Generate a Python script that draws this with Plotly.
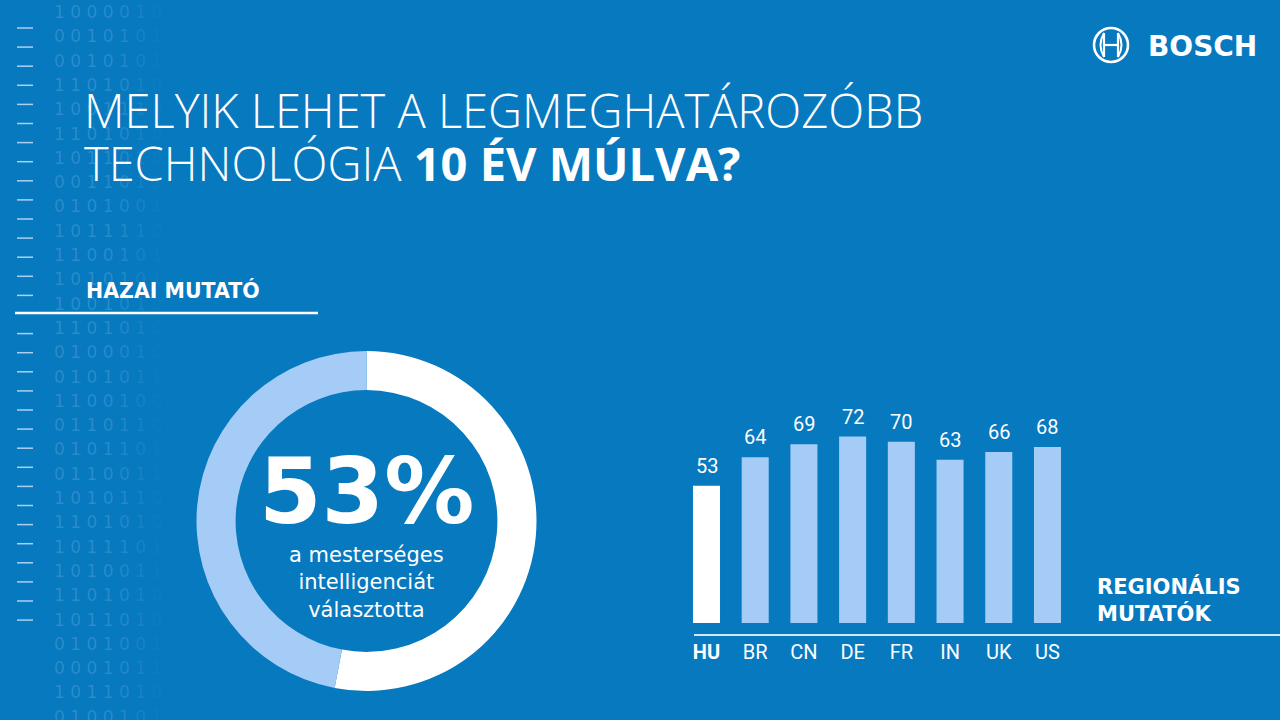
import plotly.graph_objects as go

# ---- data ----
countries = ["HU", "BR", "CN", "DE", "FR", "IN", "UK", "US"]
shares = [53, 64, 69, 72, 70, 63, 66, 68]
tick_labels = ["<b>HU</b>", "BR", "CN", "DE", "FR", "IN", "UK", "US"]
donut_labels = ["mesterséges intelligencia", "egyéb"]
donut_values = [53, 47]
binary_rows = [
    "10000101", "00101010", "00101010", "11010100", "10011100",
    "11010100", "10110100", "00110110", "01010010", "10111100",
    "11001010", "10101010", "10010100", "11010100", "01000100",
    "01010110", "11001000", "01101100", "01011010", "01100110",
    "10101100", "11010100", "10111010", "10100110", "11010100",
    "10110100", "01010010", "00010110", "10110100", "01001010",
]

BG = "#0779BF"
LIGHT = "#A4CCF6"
W, H = 1280, 720


def px(x):
    return x / W


def py(y):
    return 1 - y / H


fig = go.Figure()

# donut
cx, cy, r = 366.5, 521, 170
fig.add_trace(go.Pie(
    labels=donut_labels, values=donut_values, hole=0.77, sort=False,
    direction="clockwise", rotation=0,
    marker=dict(colors=["#FFFFFF", LIGHT], line=dict(width=0)),
    textinfo="none", hoverinfo="skip", showlegend=False,
    domain=dict(x=[px(cx - r), px(cx + r)], y=[py(cy + r), py(cy - r)]),
))

# bars
fig.add_trace(go.Bar(
    x=countries, y=shares, width=0.555,
    marker=dict(color=["#FFFFFF"] + [LIGHT] * (len(countries) - 1), line=dict(width=0)),
    hoverinfo="skip", showlegend=False,
))

ppu = 48.71
x0c = 706.5
scale = 2.59
base = 623
top = 400
fig.update_xaxes(
    type="category", categoryorder="array", categoryarray=countries,
    domain=[px(680), px(1080)],
    range=[(680 - x0c) / ppu, (1080 - x0c) / ppu],
    showgrid=False, zeroline=False, showline=False, ticks="",
    tickvals=countries, ticktext=tick_labels,
    tickfont=dict(family="Roboto", size=20, color="#FFFFFF"),
    ticklabelstandoff=15,
)
fig.update_yaxes(
    domain=[py(base), py(top)], range=[0, (base - top) / scale],
    visible=False, showgrid=False, zeroline=False,
)

annotations = []
for c, v in zip(countries, shares):
    annotations.append(dict(
        x=c, y=v, xref="x", yref="y", text=str(v), showarrow=False,
        yanchor="middle", yshift=20,
        font=dict(family="Roboto", size=20, color="#FFFFFF"),
    ))

# title
annotations.append(dict(
    x=px(82), y=py(110), xref="paper", yref="paper", xanchor="left", yanchor="middle",
    text="MELYIK LEHET A LEGMEGHATÁROZÓBB", showarrow=False,
    font=dict(family="Open Sans", size=47, color="#FFFFFF", weight=300),
))
annotations.append(dict(
    x=px(82), y=py(163), xref="paper", yref="paper", xanchor="left", yanchor="middle",
    text="TECHNOLÓGIA <b>10 ÉV MÚLVA?</b>", showarrow=False,
    font=dict(family="Open Sans", size=47, color="#FFFFFF", weight=300),
))
annotations.append(dict(
    x=px(84), y=py(290), xref="paper", yref="paper", xanchor="left", yanchor="middle",
    text="<b>HAZAI MUTATÓ</b>", showarrow=False,
    font=dict(family="DejaVu Sans", size=20.5, color="#FFFFFF"),
))
annotations.append(dict(
    x=px(1095), y=py(600), xref="paper", yref="paper", xanchor="left", yanchor="middle",
    text="<b>REGIONÁLIS<br>MUTATÓK</b>", showarrow=False, align="left",
    font=dict(family="DejaVu Sans", size=21, color="#FFFFFF"),
))

# donut centre text
annotations.append(dict(
    x=px(366), y=py(491), xref="paper", yref="paper", xanchor="center", yanchor="middle",
    text="<b>53%</b>", showarrow=False,
    font=dict(family="DejaVu Sans", size=90, color="#FFFFFF"),
))
annotations.append(dict(
    x=px(366), y=py(582), xref="paper", yref="paper", xanchor="center", yanchor="middle",
    text="a mesterséges<br>intelligenciát<br>választotta", showarrow=False, align="center",
    font=dict(family="DejaVu Sans", size=21, color="#FFFFFF"),
))

# BOSCH wordmark
annotations.append(dict(
    x=px(1146), y=py(46), xref="paper", yref="paper", xanchor="left", yanchor="middle",
    text="<b>BOSCH</b>", showarrow=False,
    font=dict(family="DejaVu Sans", size=28, color="#FFFFFF"),
))

# binary decoration
alphas = [0.48, 0.48, 0.48, 0.45, 0.38, 0.25, 0.12, 0.05]
for i, row in enumerate(binary_rows):
    spans = " ".join(
        f'<span style="color:rgba(175,212,245,{a})">{d}</span>' for d, a in zip(row, alphas)
    )
    annotations.append(dict(
        x=px(52), y=py(12 + i * 24.3), xref="paper", yref="paper",
        xanchor="left", yanchor="middle", text=spans, showarrow=False,
        font=dict(family="DejaVu Sans", size=17, color="rgba(175,212,245,0.45)"),
    ))

shapes = []
# dashes
for k in range(32):
    if k == 15:
        continue
    yy = 28 + k * 19.1
    shapes.append(dict(type="line", xref="paper", yref="paper",
                       x0=px(17), x1=px(33), y0=py(yy), y1=py(yy),
                       line=dict(color="rgba(200,225,248,0.85)", width=1.5)))
# long rule under HAZAI MUTATÓ
shapes.append(dict(type="line", xref="paper", yref="paper",
                   x0=px(15), x1=px(318), y0=py(313), y1=py(313),
                   line=dict(color="#FFFFFF", width=2.5)))
# bar baseline rule
shapes.append(dict(type="line", xref="paper", yref="paper",
                   x0=px(694), x1=px(1280), y0=py(635), y1=py(635),
                   line=dict(color="#D2E6FA", width=2)))
# Bosch armature logo
lx, ly, lr = 1111, 45, 17
shapes.append(dict(type="circle", xref="paper", yref="paper",
                   x0=px(lx - lr), x1=px(lx + lr), y0=py(ly + lr), y1=py(ly - lr),
                   line=dict(color="#FFFFFF", width=2.6)))
shapes.append(dict(type="line", xref="paper", yref="paper",
                   x0=px(lx - 7), x1=px(lx - 7), y0=py(ly - 12), y1=py(ly + 12),
                   line=dict(color="#FFFFFF", width=2.2)))
shapes.append(dict(type="line", xref="paper", yref="paper",
                   x0=px(lx + 7), x1=px(lx + 7), y0=py(ly - 12), y1=py(ly + 12),
                   line=dict(color="#FFFFFF", width=2.2)))
shapes.append(dict(type="line", xref="paper", yref="paper",
                   x0=px(lx - 7), x1=px(lx + 7), y0=py(ly), y1=py(ly),
                   line=dict(color="#FFFFFF", width=2.2)))
shapes.append(dict(type="path", xref="paper", yref="paper",
                   path=f"M {px(lx-7)},{py(ly-12)} Q {px(lx-14)},{py(ly)} {px(lx-7)},{py(ly+12)}",
                   line=dict(color="#FFFFFF", width=2)))
shapes.append(dict(type="path", xref="paper", yref="paper",
                   path=f"M {px(lx+7)},{py(ly-12)} Q {px(lx+14)},{py(ly)} {px(lx+7)},{py(ly+12)}",
                   line=dict(color="#FFFFFF", width=2)))

fig.update_layout(
    width=W, height=H, margin=dict(l=0, r=0, t=0, b=0),
    paper_bgcolor=BG, plot_bgcolor=BG, showlegend=False,
    annotations=annotations, shapes=shapes, bargap=0.4,
)

fig.write_html(
    "out.html",
    config={"displayModeBar": False},
    post_script="document.body.style.margin='0';document.body.style.overflow='hidden';",
)
